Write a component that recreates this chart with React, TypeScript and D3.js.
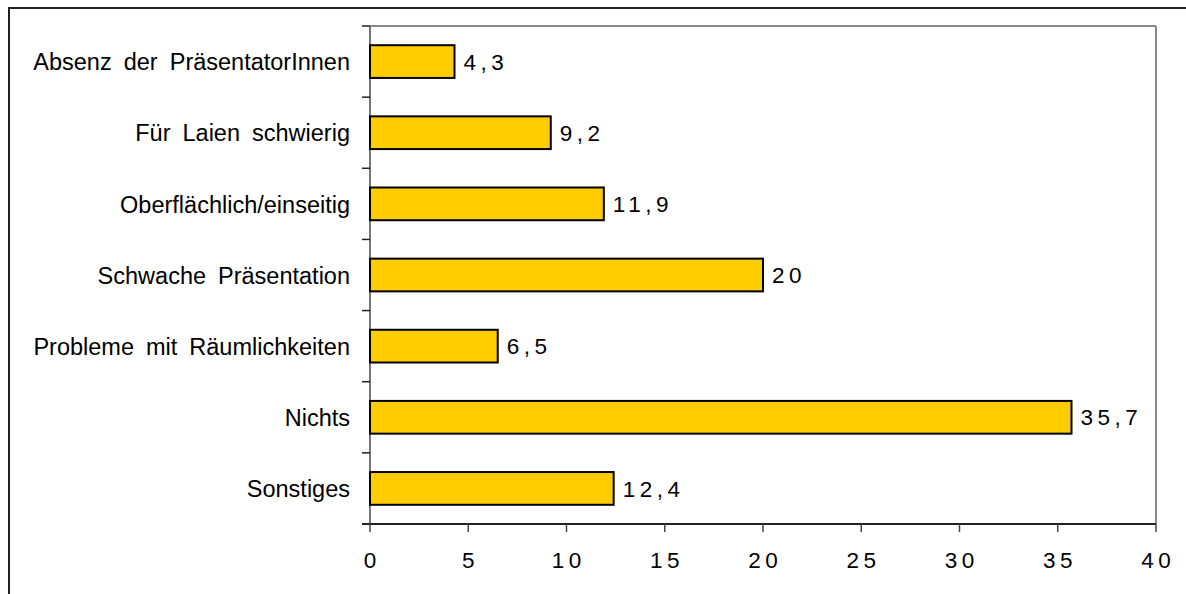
import React from "react";
import * as d3 from "d3";

const categories = [
  "Absenz der PräsentatorInnen",
  "Für Laien schwierig",
  "Oberflächlich/einseitig",
  "Schwache Präsentation",
  "Probleme mit Räumlichkeiten",
  "Nichts",
  "Sonstiges",
];
const values = [4.3, 9.2, 11.9, 20, 6.5, 35.7, 12.4];
const valueLabels = ["4,3", "9,2", "11,9", "20", "6,5", "35,7", "12,4"];
const xTicks = [0, 5, 10, 15, 20, 25, 30, 35, 40];

const W = 1186;
const H = 594;
const plot = { left: 370, right: 1156, top: 26, bottom: 524 };

export default function App() {
  const x = d3.scaleLinear().domain([0, 40]).range([plot.left, plot.right]);
  const y = d3
    .scaleBand<string>()
    .domain(categories)
    .range([plot.top, plot.bottom])
    .paddingInner(0.54)
    .paddingOuter(0.27);
  const bandStep = (plot.bottom - plot.top) / categories.length;
  const font = "'Liberation Sans', Arial, sans-serif";
  const numSpacing = 4.5;
  const numSize = 22.5;

  return (
    <svg
      width={W}
      height={H}
      style={{ position: "fixed", left: 0, top: 0, display: "block", background: "#fff" }}
    >
      <rect x={0} y={0} width={W} height={H} fill="#fff" />
      {/* outer chart border */}
      <rect x={9} y={8} width={W + 20} height={H + 20} fill="none" stroke="#222" strokeWidth={2} />
      {/* plot area frame */}
      <line x1={plot.left} y1={plot.top} x2={plot.right} y2={plot.top} stroke="#888" strokeWidth={2} />
      <line x1={plot.right} y1={plot.top} x2={plot.right} y2={plot.bottom} stroke="#888" strokeWidth={2} />
      <line x1={plot.left} y1={plot.top} x2={plot.left} y2={plot.bottom} stroke="#777" strokeWidth={2} />
      {/* y ticks at band boundaries */}
      {d3.range(categories.length + 1).map((i) => (
        <line
          key={"yt" + i}
          x1={plot.left - 8}
          x2={plot.left}
          y1={plot.top + i * bandStep}
          y2={plot.top + i * bandStep}
          stroke="#222"
          strokeWidth={1.5}
        />
      ))}
      {/* bars */}
      {categories.map((c, i) => (
        <g key={c}>
          <rect
            x={x(0)}
            y={y(c)!}
            width={x(values[i]) - x(0)}
            height={y.bandwidth()}
            fill="#FFCC00"
            stroke="#000"
            strokeWidth={2}
          />
          <text
            x={x(values[i]) + 9}
            y={y(c)! + y.bandwidth() / 2}
            dy="0.36em"
            fontFamily={font}
            fontSize={numSize}
            letterSpacing={numSpacing}
            fill="#000"
          >
            {valueLabels[i]}
          </text>
          <text
            x={350}
            y={y(c)! + y.bandwidth() / 2}
            dy="0.37em"
            textAnchor="end"
            fontFamily={font}
            fontSize={23.5}
            wordSpacing={5.5}
            fill="#000"
          >
            {c}
          </text>
        </g>
      ))}
      {/* x axis */}
      <line x1={plot.left - 8} y1={plot.bottom} x2={plot.right} y2={plot.bottom} stroke="#222" strokeWidth={2} />
      {xTicks.map((t) => (
        <g key={"xt" + t}>
          <line x1={x(t)} x2={x(t)} y1={plot.bottom} y2={plot.bottom + 8} stroke="#444" strokeWidth={1.5} />
          <text
            x={x(t) + numSpacing / 2}
            y={568}
            textAnchor="middle"
            fontFamily={font}
            fontSize={numSize}
            letterSpacing={numSpacing}
            fill="#000"
          >
            {String(t)}
          </text>
        </g>
      ))}
    </svg>
  );
}
